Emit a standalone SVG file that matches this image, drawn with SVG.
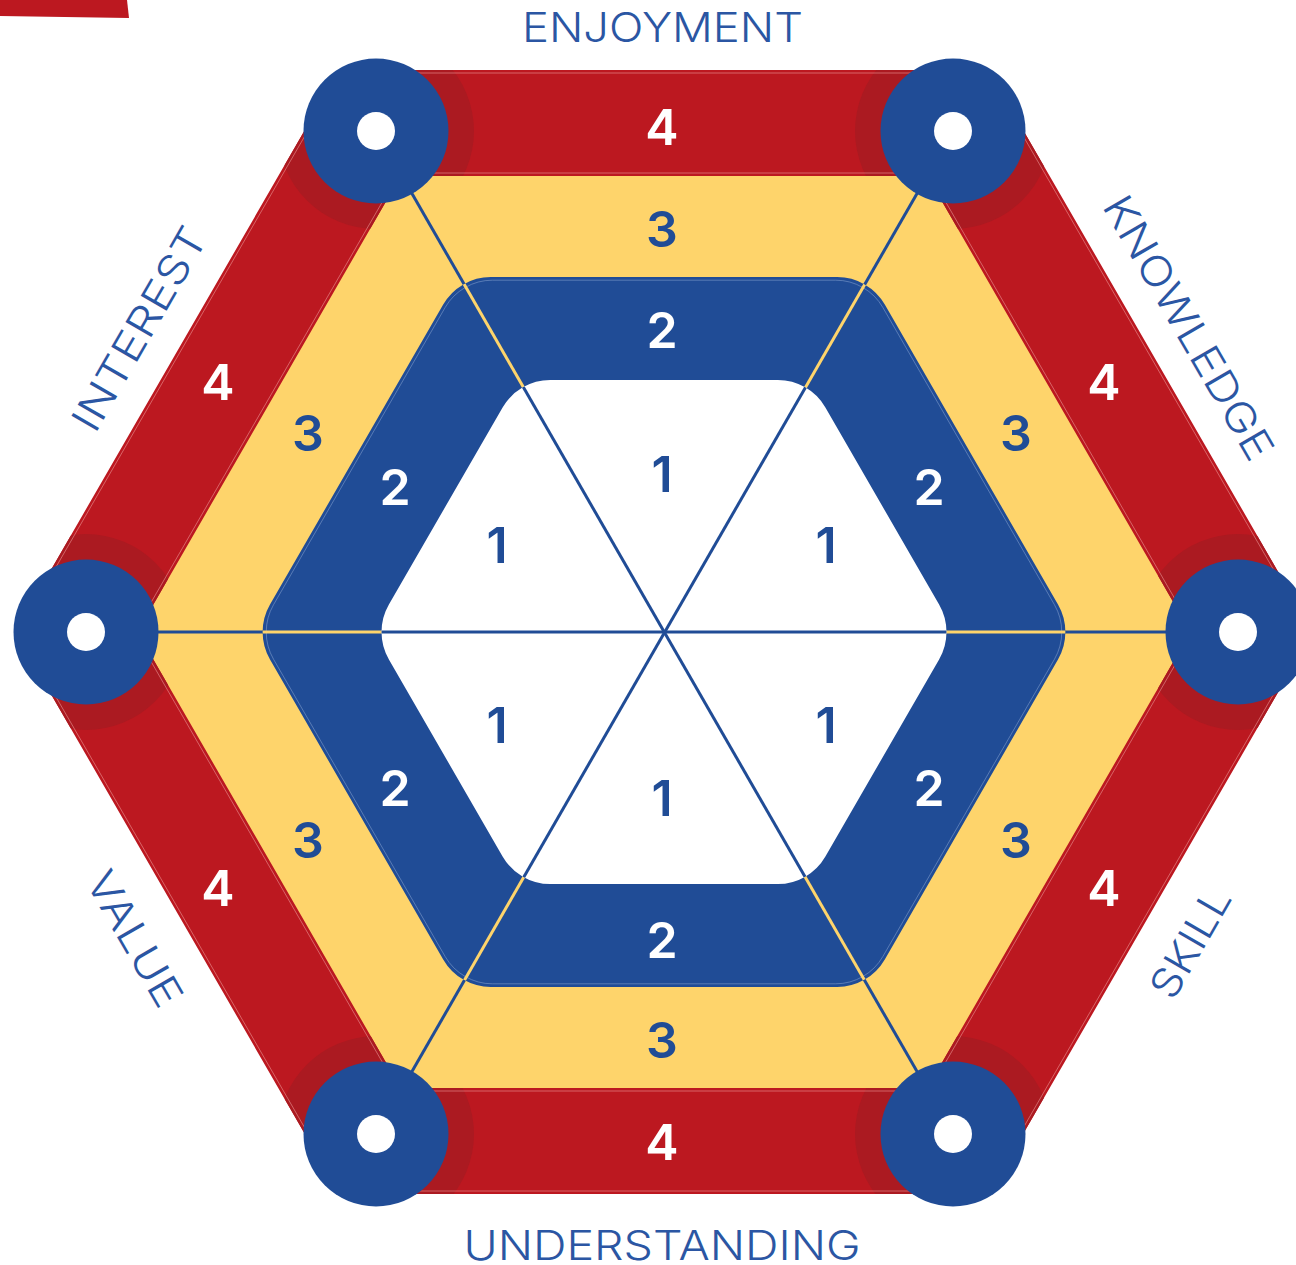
<svg xmlns="http://www.w3.org/2000/svg" xmlns:xlink="http://www.w3.org/1999/xlink" width="1296" height="1265" viewBox="0 0 1296 1265">
<style>
.lbl{font-family:Inter,"Open Sans","Liberation Sans",sans-serif;font-weight:300;font-size:41px;fill:#2b56a3;text-anchor:middle}
.num{font-family:Inter,"Open Sans","Liberation Sans",sans-serif;font-weight:600;font-size:50px;text-anchor:middle}
.w{fill:#ffffff}.b{fill:#204c96}
.ring{fill:#204c96}.hole{fill:#ffffff}.shadow{fill:#ab1a21}
</style>
<defs>
<path id="blueHex" d="M 490.8 277 L 837.2 277 A 55 55 0 0 1 884.8 304.5 L 1058 604.5 A 55 55 0 0 1 1058 659.5 L 884.8 959.5 A 55 55 0 0 1 837.2 987 L 490.8 987 A 55 55 0 0 1 443.2 959.5 L 270 659.5 A 55 55 0 0 1 270 604.5 L 443.2 304.5 A 55 55 0 0 1 490.8 277 Z"/>
<path id="whiteHex" d="M 550.25 380 L 777.75 380 A 55 55 0 0 1 825.4 407.5 L 939.1 604.5 A 55 55 0 0 1 939.1 659.5 L 825.4 856.5 A 55 55 0 0 1 777.75 884 L 550.25 884 A 55 55 0 0 1 502.6 856.5 L 388.9 659.5 A 55 55 0 0 1 388.9 604.5 L 502.6 407.5 A 55 55 0 0 1 550.25 380 Z"/>
<path id="redRing" fill-rule="evenodd" d="M 339.5 70 L 988.5 70 L 1312.9 632 L 988.5 1194 L 339.5 1194 L 15.1 632 Z M 400.7 176 L 927.3 176 L 1190.5 632 L 927.3 1088 L 400.7 1088 L 137.5 632 Z"/>
<clipPath id="clipBlue"><use xlink:href="#blueHex"/></clipPath>
<clipPath id="clipWhite"><use xlink:href="#whiteHex"/></clipPath>
<clipPath id="clipRed"><path clip-rule="evenodd" d="M 339.5 70 L 988.5 70 L 1312.9 632 L 988.5 1194 L 339.5 1194 L 15.1 632 Z M 400.7 176 L 927.3 176 L 1190.5 632 L 927.3 1088 L 400.7 1088 L 137.5 632 Z"/></clipPath>
<g id="spokes" stroke-width="3" fill="none">
<line x1="86" y1="632" x2="1238" y2="632"/>
<line x1="376" y1="131" x2="953" y2="1134"/>
<line x1="953" y1="131" x2="376" y2="1134"/>
</g>
</defs>

<g id="corner-mark"><polygon points="0,0 127,0 129,18 0,16" fill="#bc1820"/></g>

<g id="bands">
<polygon id="yellow-band" points="1218.3,632 941.2,1112 386.8,1112 109.7,632 386.8,152 941.2,152" fill="#fed46b"/>
</g>

<g id="connectors">
<use xlink:href="#spokes" stroke="#204c96"/>
</g>

<g id="blue-band">
<use xlink:href="#blueHex" fill="#204c96"/>
<use xlink:href="#blueHex" fill="none" stroke="#7f9bcb" stroke-opacity="0.6" stroke-width="1" transform="translate(664 632) scale(0.991) translate(-664 -632)"/>
</g>
<g id="connectors-on-blue" clip-path="url(#clipBlue)">
<use xlink:href="#spokes" stroke="#fed46b"/>
</g>
<g id="white-core">
<use xlink:href="#whiteHex" fill="#ffffff"/>
</g>
<g id="connectors-on-white" clip-path="url(#clipWhite)">
<use xlink:href="#spokes" stroke="#204c96"/>
</g>

<g id="red-band">
<use xlink:href="#redRing" fill="#bc1820"/>
<g clip-path="url(#clipRed)">
<circle class="shadow" cx="376" cy="131" r="98"/>
<circle class="shadow" cx="953" cy="131" r="98"/>
<circle class="shadow" cx="1238" cy="632" r="98"/>
<circle class="shadow" cx="953" cy="1134" r="98"/>
<circle class="shadow" cx="376" cy="1134" r="98"/>
<circle class="shadow" cx="86" cy="632" r="98"/>
</g>
<polygon points="341.2,73 986.8,73 1309.5,632 986.8,1191 341.2,1191 18.5,632" fill="none" stroke="#f0a0a0" stroke-opacity="0.55" stroke-width="1"/>
<polygon points="399,173 929,173 1194,632 929,1091 399,1091 134,632" fill="none" stroke="#f0a0a0" stroke-opacity="0.55" stroke-width="1"/>
</g>

<g id="node-top-left"><circle class="ring" cx="376" cy="131" r="72.5"/><circle class="hole" cx="376" cy="131" r="19"/></g>
<g id="node-top-right"><circle class="ring" cx="953" cy="131" r="72.5"/><circle class="hole" cx="953" cy="131" r="19"/></g>
<g id="node-right"><circle class="ring" cx="1238" cy="632" r="72.5"/><circle class="hole" cx="1238" cy="632" r="19"/></g>
<g id="node-bottom-right"><circle class="ring" cx="953" cy="1134" r="72.5"/><circle class="hole" cx="953" cy="1134" r="19"/></g>
<g id="node-bottom-left"><circle class="ring" cx="376" cy="1134" r="72.5"/><circle class="hole" cx="376" cy="1134" r="19"/></g>
<g id="node-left"><circle class="ring" cx="86" cy="632" r="72.5"/><circle class="hole" cx="86" cy="632" r="19"/></g>

<g id="numbers">
<text class="num w" x="662" y="145">4</text>
<text class="num b" x="662" y="247">3</text>
<text class="num w" x="662" y="348">2</text>
<text class="num b" x="662" y="492">1</text>

<text class="num w" x="218" y="400">4</text>
<text class="num b" x="308" y="451">3</text>
<text class="num w" x="395" y="505">2</text>
<text class="num b" x="497" y="563">1</text>

<text class="num w" x="1104" y="400">4</text>
<text class="num b" x="1016" y="451">3</text>
<text class="num w" x="929" y="505">2</text>
<text class="num b" x="826" y="563">1</text>

<text class="num w" x="218" y="906">4</text>
<text class="num b" x="308" y="858">3</text>
<text class="num w" x="395" y="806">2</text>
<text class="num b" x="497" y="743">1</text>

<text class="num w" x="1104" y="906">4</text>
<text class="num b" x="1016" y="858">3</text>
<text class="num w" x="929" y="806">2</text>
<text class="num b" x="826" y="743">1</text>

<text class="num w" x="662" y="1160">4</text>
<text class="num b" x="662" y="1058">3</text>
<text class="num w" x="662" y="958">2</text>
<text class="num b" x="662" y="816">1</text>
</g>

<g id="labels">
<text class="lbl" x="662.5" y="41.7" textLength="281" lengthAdjust="spacingAndGlyphs">ENJOYMENT</text>
<text class="lbl" x="662" y="1260" textLength="397" lengthAdjust="spacingAndGlyphs">UNDERSTANDING</text>
<text class="lbl" transform="translate(1176 335) rotate(60)" x="0" y="0" textLength="298" lengthAdjust="spacingAndGlyphs">KNOWLEDGE</text>
<text class="lbl" transform="translate(152 336) rotate(-60)" x="0" y="0" textLength="228" lengthAdjust="spacingAndGlyphs">INTEREST</text>
<text class="lbl" transform="translate(122 946) rotate(60)" x="0" y="0" textLength="150" lengthAdjust="spacingAndGlyphs">VALUE</text>
<text class="lbl" transform="translate(1203 950) rotate(-60)" x="0" y="0" textLength="120" lengthAdjust="spacingAndGlyphs">SKILL</text>
</g>
</svg>
